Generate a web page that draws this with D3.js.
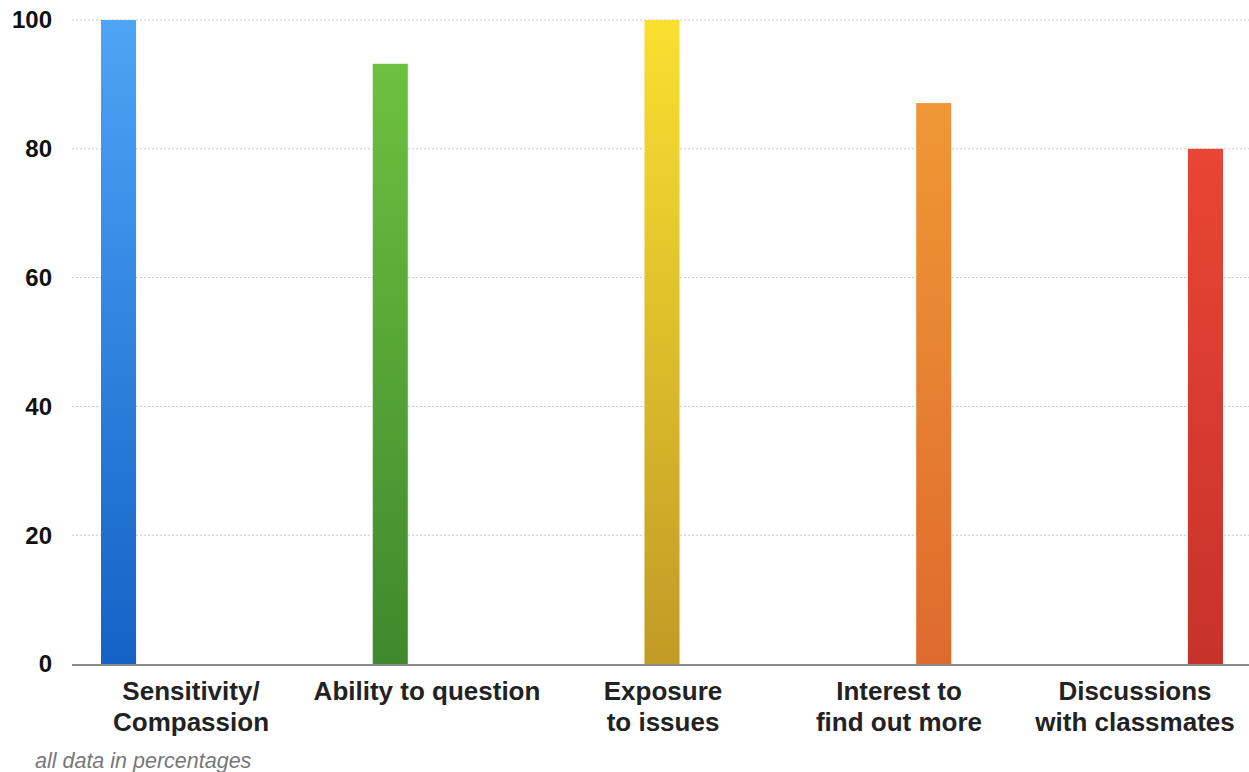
<!DOCTYPE html>
<html lang="en">
<head>
    <meta charset="UTF-8" />
    <title>Survey bar chart</title>
    <script src="https://d3js.org/d3.v7.min.js"></script>
    <style>
        body { margin: 0; background: #fff; }
        .tick-label { font-family: "Liberation Sans", Arial, sans-serif; font-weight: bold; font-size: 24px; fill: #111; }
        .cat-label { font-family: "Liberation Sans", Arial, sans-serif; font-weight: bold; font-size: 26px; fill: #222; }
        .note { font-family: "Liberation Sans", Arial, sans-serif; font-style: italic; font-size: 21.5px; fill: #777; }
    </style>
</head>
<body>
<script>
    // data
    var categories = ["Sensitivity/Compassion", "Ability to question", "Exposure to issues", "Interest to find out more", "Discussions with classmates"];
    var labelLines = [["Sensitivity/", "Compassion"], ["Ability to question"], ["Exposure", "to issues"], ["Interest to", "find out more"], ["Discussions", "with classmates"]];
    var values = [100, 93.2, 100, 87.1, 80];
    var yTicks = [0, 20, 40, 60, 80, 100];
    var colorTop = ["#4ea4f6", "#6dc13f", "#f9e030", "#ef9835", "#ea4535"];
    var colorBottom = ["#1462c6", "#3e892d", "#c29a26", "#df6a2e", "#c7322a"];
    var note = "all data in percentages";

    var w = 1249, h = 772;
    var svg = d3.select("body").append("svg")
        .attr("width", w)
        .attr("height", h);

    var y = d3.scaleLinear().domain([0, 100]).range([664, 20]);

    var x = d3.scaleBand()
        .domain(categories)
        .range([101, 1223])
        .paddingInner(0.871)
        .paddingOuter(0)
        .align(0);

    var xLabel = d3.scalePoint()
        .domain(categories)
        .range([191, 1135]);

    // gradients
    var defs = svg.append("defs");
    categories.forEach(function (c, i) {
        var g = defs.append("linearGradient")
            .attr("id", "grad" + i)
            .attr("x1", 0).attr("y1", 0).attr("x2", 0).attr("y2", 1);
        g.append("stop").attr("offset", "0%").attr("stop-color", colorTop[i]);
        g.append("stop").attr("offset", "100%").attr("stop-color", colorBottom[i]);
    });

    // grid
    svg.append("g")
        .selectAll("line")
        .data(yTicks.filter(function (d) { return d > 0; }))
        .enter().append("line")
        .attr("x1", 72).attr("x2", w)
        .attr("y1", function (d) { return y(d); })
        .attr("y2", function (d) { return y(d); })
        .attr("stroke", "#c8c8c8")
        .attr("stroke-width", 1)
        .attr("stroke-dasharray", "2,2");

    // tick labels
    svg.append("g")
        .selectAll("text")
        .data(yTicks)
        .enter().append("text")
        .attr("class", "tick-label")
        .attr("x", 52)
        .attr("y", function (d) { return y(d); })
        .attr("dy", "0.35em")
        .attr("text-anchor", "end")
        .text(function (d) { return d; });

    // bars
    svg.append("g")
        .selectAll("rect")
        .data(values)
        .enter().append("rect")
        .attr("x", function (d, i) { return x(categories[i]); })
        .attr("y", function (d) { return y(d); })
        .attr("width", x.bandwidth())
        .attr("height", function (d) { return y(0) - y(d); })
        .attr("fill", function (d, i) { return "url(#grad" + i + ")"; });

    // axis line
    svg.append("line")
        .attr("x1", 72).attr("x2", w)
        .attr("y1", y(0) + 1).attr("y2", y(0) + 1)
        .attr("stroke", "#8a8a8a")
        .attr("stroke-width", 2);

    // category labels
    var lab = svg.append("g")
        .selectAll("text")
        .data(categories)
        .enter().append("text")
        .attr("class", "cat-label")
        .attr("text-anchor", "middle")
        .attr("x", function (d) { return xLabel(d); })
        .attr("y", 700);

    lab.selectAll("tspan")
        .data(function (d, i) { return labelLines[i]; })
        .enter().append("tspan")
        .attr("x", function () { return xLabel(d3.select(this.parentNode).datum()); })
        .attr("dy", function (d, i) { return i === 0 ? 0 : 31; })
        .text(function (d) { return d; });

    svg.append("text")
        .attr("class", "note")
        .attr("x", 35)
        .attr("y", 768)
        .text(note);
</script>
</body>
</html>
